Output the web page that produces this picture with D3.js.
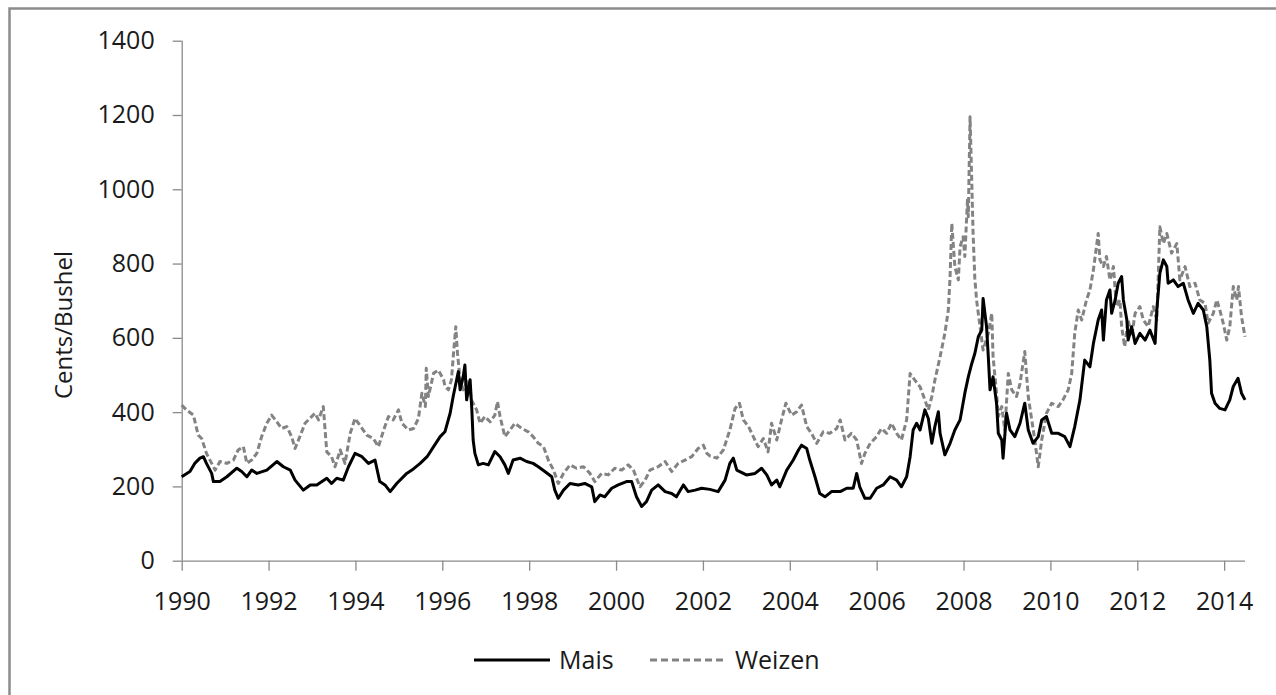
<!DOCTYPE html>
<html>
<head>
<meta charset="utf-8">
<script src="https://cdn.jsdelivr.net/npm/d3@7"></script>
<style>
  html, body { margin: 0; padding: 0; background: #fff; }
  svg { display: block; }
  text { font-family: "Open Sans", "Noto Sans", sans-serif; fill: #1a1a1a; }
</style>
</head>
<body>
<svg id="chart" width="1276" height="695"></svg>
<script>
// ---- Data (decimal year, cents per bushel) ----
const seriesNames = ["Mais", "Weizen"];
const xTickYears = [1990, 1992, 1994, 1996, 1998, 2000, 2002, 2004, 2006, 2008, 2010, 2012, 2014];
const yTickValues = [0, 200, 400, 600, 800, 1000, 1200, 1400];
const yAxisTitle = "Cents/Bushel";

const mais = [
  [1990.00,226],[1990.19,240],[1990.30,262],[1990.42,276],[1990.50,280],[1990.57,262],[1990.69,235],[1990.73,213],
  [1990.88,213],[1991.04,226],[1991.27,249],[1991.38,240],[1991.50,226],[1991.61,244],[1991.73,235],[1991.96,244],
  [1992.19,267],[1992.34,253],[1992.50,244],[1992.61,217],[1992.80,190],[1992.96,204],[1993.11,204],[1993.34,222],
  [1993.45,208],[1993.57,222],[1993.72,217],[1993.84,253],[1993.99,289],[1994.15,280],[1994.30,262],[1994.45,271],
  [1994.56,213],[1994.68,204],[1994.80,186],[1994.95,208],[1995.18,235],[1995.30,244],[1995.49,262],[1995.65,280],
  [1995.80,307],[1995.95,334],[1996.06,347],[1996.18,397],[1996.25,442],[1996.33,487],[1996.37,509],[1996.41,460],
  [1996.48,495],[1996.52,527],[1996.56,433],[1996.64,487],[1996.68,406],[1996.71,325],[1996.75,289],[1996.83,258],
  [1996.94,262],[1997.06,258],[1997.21,294],[1997.33,280],[1997.44,258],[1997.52,235],[1997.63,271],[1997.79,276],
  [1997.94,267],[1998.09,262],[1998.21,253],[1998.36,240],[1998.52,226],[1998.59,190],[1998.67,168],[1998.79,190],
  [1998.94,208],[1999.13,204],[1999.28,208],[1999.44,199],[1999.51,159],[1999.63,177],[1999.74,172],[1999.90,195],
  [2000.05,204],[2000.24,213],[2000.36,213],[2000.47,172],[2000.59,146],[2000.70,159],[2000.82,190],[2000.97,204],
  [2001.13,186],[2001.28,181],[2001.39,172],[2001.55,204],[2001.66,186],[2001.82,190],[2001.97,195],[2002.16,192],
  [2002.35,186],[2002.51,217],[2002.62,262],[2002.70,276],[2002.78,244],[2003.00,231],[2003.20,235],[2003.35,249],
  [2003.47,231],[2003.58,204],[2003.70,217],[2003.77,199],[2003.93,244],[2004.08,271],[2004.20,298],[2004.27,311],
  [2004.39,302],[2004.46,271],[2004.58,226],[2004.69,181],[2004.81,172],[2004.96,186],[2005.16,186],[2005.31,195],
  [2005.46,195],[2005.54,235],[2005.61,199],[2005.73,168],[2005.85,168],[2006.00,195],[2006.15,204],[2006.31,226],
  [2006.46,217],[2006.57,199],[2006.69,226],[2006.77,280],[2006.84,352],[2006.92,370],[2007.00,352],[2007.11,406],
  [2007.19,383],[2007.27,316],[2007.34,361],[2007.42,401],[2007.46,343],[2007.57,285],[2007.69,316],[2007.80,352],
  [2007.92,379],[2008.03,451],[2008.11,495],[2008.19,531],[2008.26,558],[2008.34,603],[2008.42,621],[2008.45,706],
  [2008.53,630],[2008.57,549],[2008.61,460],[2008.68,495],[2008.76,424],[2008.80,343],[2008.88,325],[2008.91,276],
  [2008.99,397],[2009.07,352],[2009.18,334],[2009.30,370],[2009.41,424],[2009.49,352],[2009.60,316],[2009.72,334],
  [2009.80,379],[2009.91,388],[2010.03,343],[2010.18,343],[2010.33,334],[2010.45,307],[2010.56,361],[2010.68,433],
  [2010.79,540],[2010.91,522],[2010.99,585],[2011.10,648],[2011.18,675],[2011.22,594],[2011.29,702],[2011.37,729],
  [2011.41,666],[2011.49,702],[2011.56,747],[2011.64,765],[2011.68,702],[2011.76,648],[2011.79,594],[2011.87,630],
  [2011.95,585],[2012.06,612],[2012.18,594],[2012.29,621],[2012.41,585],[2012.45,675],[2012.52,774],[2012.60,810],
  [2012.68,792],[2012.71,747],[2012.83,756],[2012.94,738],[2013.06,747],[2013.17,702],[2013.29,666],[2013.40,693],
  [2013.52,675],[2013.60,630],[2013.67,540],[2013.71,451],[2013.79,424],[2013.90,410],[2014.02,406],[2014.13,433],
  [2014.21,469],[2014.32,491],[2014.40,451],[2014.48,433]
];

const weizen = [
  [1990.00,419],[1990.11,406],[1990.27,392],[1990.38,338],[1990.46,329],[1990.57,289],[1990.69,262],[1990.77,244],
  [1990.88,267],[1991.04,262],[1991.19,271],[1991.30,298],[1991.42,307],[1991.50,262],[1991.61,271],[1991.73,289],
  [1991.84,334],[1991.96,370],[1992.07,392],[1992.19,374],[1992.30,356],[1992.42,361],[1992.53,334],[1992.61,302],
  [1992.72,334],[1992.84,370],[1992.95,383],[1993.07,397],[1993.15,379],[1993.26,415],[1993.34,293],[1993.45,280],
  [1993.53,253],[1993.65,298],[1993.76,262],[1993.88,343],[1993.99,383],[1994.10,365],[1994.26,338],[1994.41,329],
  [1994.53,307],[1994.65,352],[1994.76,388],[1994.87,379],[1994.99,406],[1995.07,370],[1995.22,352],[1995.34,356],
  [1995.45,383],[1995.53,451],[1995.61,415],[1995.63,518],[1995.68,442],[1995.80,505],[1995.91,513],[1996.03,487],
  [1996.06,470],[1996.14,460],[1996.21,487],[1996.27,576],[1996.31,630],[1996.35,558],[1996.41,487],[1996.48,460],
  [1996.60,487],[1996.67,433],[1996.79,406],[1996.87,370],[1996.98,388],[1997.10,374],[1997.21,392],[1997.27,428],
  [1997.33,388],[1997.44,334],[1997.56,352],[1997.67,370],[1997.83,356],[1997.98,347],[1998.09,334],[1998.21,316],
  [1998.33,307],[1998.44,271],[1998.56,244],[1998.67,208],[1998.79,235],[1998.94,258],[1999.09,249],[1999.25,253],
  [1999.40,235],[1999.51,213],[1999.67,235],[1999.82,231],[1999.97,249],[2000.13,244],[2000.28,258],[2000.40,244],
  [2000.55,199],[2000.67,217],[2000.78,244],[2000.97,253],[2001.13,267],[2001.28,240],[2001.43,262],[2001.59,271],
  [2001.74,280],[2001.89,302],[2002.01,311],[2002.09,289],[2002.16,282],[2002.32,276],[2002.47,298],[2002.62,352],
  [2002.74,410],[2002.84,424],[2002.93,379],[2003.05,361],[2003.16,334],[2003.27,307],[2003.39,329],[2003.50,293],
  [2003.58,370],[2003.70,325],[2003.81,379],[2003.91,424],[2004.04,392],[2004.16,401],[2004.27,419],[2004.39,361],
  [2004.50,343],[2004.62,316],[2004.77,347],[2004.92,343],[2005.08,356],[2005.16,379],[2005.27,325],[2005.42,343],
  [2005.54,325],[2005.65,262],[2005.73,289],[2005.85,316],[2006.00,334],[2006.11,356],[2006.23,343],[2006.34,370],
  [2006.46,343],[2006.57,325],[2006.69,379],[2006.77,504],[2006.88,486],[2007.00,468],[2007.11,433],[2007.19,406],
  [2007.27,442],[2007.34,486],[2007.46,549],[2007.57,612],[2007.65,675],[2007.69,765],[2007.73,908],[2007.80,792],
  [2007.88,756],[2007.92,845],[2007.99,872],[2008.03,819],[2008.09,971],[2008.11,926],[2008.15,1195],[2008.19,1016],
  [2008.22,881],[2008.26,760],[2008.30,702],[2008.38,630],[2008.45,567],[2008.57,612],[2008.65,666],[2008.68,549],
  [2008.76,451],[2008.80,388],[2008.88,415],[2008.95,352],[2009.03,504],[2009.11,460],[2009.22,442],[2009.30,477],
  [2009.41,563],[2009.49,442],[2009.57,379],[2009.64,325],[2009.72,253],[2009.80,325],[2009.91,397],[2010.03,424],
  [2010.18,415],[2010.29,433],[2010.41,460],[2010.49,504],[2010.56,612],[2010.64,675],[2010.72,648],[2010.83,702],
  [2010.91,729],[2010.99,783],[2011.10,881],[2011.14,810],[2011.22,792],[2011.29,819],[2011.37,756],[2011.45,792],
  [2011.52,684],[2011.60,702],[2011.64,630],[2011.71,576],[2011.79,648],[2011.87,603],[2011.95,666],[2012.06,684],
  [2012.14,648],[2012.25,630],[2012.37,684],[2012.45,648],[2012.52,899],[2012.60,854],[2012.68,881],[2012.79,828],
  [2012.91,854],[2012.98,756],[2013.10,792],[2013.21,738],[2013.33,747],[2013.44,702],[2013.56,693],[2013.63,639],
  [2013.75,666],[2013.83,702],[2013.90,675],[2013.98,639],[2014.06,594],[2014.13,630],[2014.21,738],[2014.29,702],
  [2014.33,738],[2014.40,657],[2014.48,603]
];

// ---- Layout ----
const svg = d3.select("#chart");
const plotLeft = 181.7, plotRight = 1245, plotTop = 40.7, plotBottom = 560.7;
const axisColor = "#8a8a8a";
const grayLine = "#838383";

// outer frame (only top/left visible in the cropped picture)
svg.append("rect")
  .attr("x", 9.5).attr("y", 8.5).attr("width", 1400).attr("height", 900)
  .attr("fill", "none").attr("stroke", "#8c8c8c").attr("stroke-width", 2.5);

const x = d3.scaleLinear().domain([1990, 2014.48]).range([plotLeft, plotRight]);
const y = d3.scaleLinear().domain([0, 1400]).range([plotBottom, plotTop]);

// Y axis
const yAxis = svg.append("g")
  .attr("transform", `translate(${plotLeft},0)`)
  .call(d3.axisLeft(y).tickValues(yTickValues).tickSize(9).tickPadding(18).tickFormat(d3.format("d")));
// X axis
const xAxis = svg.append("g")
  .attr("transform", `translate(0,${plotBottom})`)
  .call(d3.axisBottom(x).tickValues(xTickYears).tickSize(10).tickPadding(22).tickFormat(d3.format("d")));

[yAxis, xAxis].forEach(g => {
  g.select(".domain").attr("stroke", axisColor).attr("stroke-width", 1.3);
  g.selectAll(".tick line").attr("stroke", axisColor).attr("stroke-width", 1.3);
  g.selectAll(".tick text").attr("fill", "#1a1a1a").style("font-size", "25px")
    .style("font-family", "'Open Sans', 'Noto Sans', sans-serif");
});
xAxis.select(".domain").attr("d", `M${plotLeft},0.5H${plotRight}`);
yAxis.select(".domain").attr("d", `M0.5,${plotBottom}V${plotTop}`);

// Y axis title
svg.append("text")
  .attr("transform", `translate(72,325) rotate(-90)`)
  .attr("text-anchor", "middle")
  .style("font-size", "24px")
  .text(yAxisTitle);

// Lines
const line = d3.line().x(d => x(d[0])).y(d => y(d[1]));

svg.append("path").datum(weizen)
  .attr("d", line)
  .attr("fill", "none").attr("stroke", grayLine).attr("stroke-width", 3)
  .attr("stroke-dasharray", "6,3").attr("stroke-linejoin", "round");

svg.append("path").datum(mais)
  .attr("d", line)
  .attr("fill", "none").attr("stroke", "#000").attr("stroke-width", 3)
  .attr("stroke-linejoin", "round");

// Legend
const legendY = 660;
const legend = svg.append("g");
const legendItems = [
  { name: seriesNames[0], x1: 474, x2: 550, tx: 559, color: "#000", dash: null },
  { name: seriesNames[1], x1: 650, x2: 727, tx: 735, color: grayLine, dash: "7,4" }
];
legendItems.forEach(it => {
  legend.append("line")
    .attr("x1", it.x1).attr("x2", it.x2).attr("y1", legendY).attr("y2", legendY)
    .attr("stroke", it.color).attr("stroke-width", 3)
    .attr("stroke-dasharray", it.dash);
  legend.append("text")
    .attr("x", it.tx).attr("y", legendY).attr("dy", "0.35em")
    .style("font-size", "25px")
    .text(it.name);
});
</script>
</body>
</html>
